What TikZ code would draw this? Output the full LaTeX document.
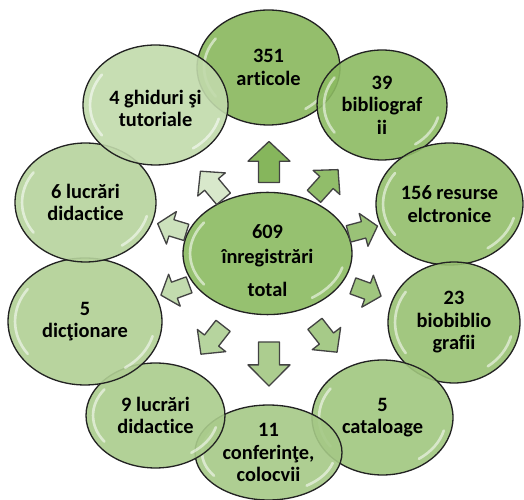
\documentclass[tikz,border=0pt]{standalone}
\usepackage{fontspec}
\setmainfont{Carlito}[Ligatures=NoCommon]
\usetikzlibrary{shapes.geometric,calc}

\definecolor{rim}{HTML}{222222}
\definecolor{cArt}{HTML}{88B75C}
\definecolor{cBib}{HTML}{8CBA62}
\definecolor{cRes}{HTML}{92BE6A}
\definecolor{cBio}{HTML}{98C172}
\definecolor{cCat}{HTML}{A0C67E}
\definecolor{cConf}{HTML}{A5C986}
\definecolor{cNine}{HTML}{AACC8C}
\definecolor{cDict}{HTML}{B0CF94}
\definecolor{cSix}{HTML}{B6D39C}
\definecolor{cGhid}{HTML}{C1DAAB}
\definecolor{cTot}{HTML}{96C170}
\definecolor{sp1}{HTML}{86B65C}
\definecolor{sp2}{HTML}{91BD6A}
\definecolor{sp3}{HTML}{9AC277}
\definecolor{sp4}{HTML}{A0C67F}
\definecolor{sp5}{HTML}{A6CA88}
\definecolor{sp6}{HTML}{ACCD8F}
\definecolor{sp7}{HTML}{B6D49E}
\definecolor{sp8}{HTML}{C2DBAE}
\definecolor{sp9}{HTML}{CCE1BC}
\definecolor{sp10}{HTML}{D8E8CB}

\newcommand{\lbl}{\fontsize{11.6}{12.8}\selectfont\bfseries}

\tikzset{
  bubble/.style={ellipse, draw=rim, line width=0.75pt, fill opacity=.9, text opacity=1,
    align=center, inner sep=0pt, font=\lbl,
    path picture={
      \draw[white, opacity=.55, line width=1.5pt, line cap=round]
        let \p1=(path picture bounding box.north east),
            \p2=(path picture bounding box.center),
            \n1={\x1-\x2-4pt}, \n2={\y1-\y2-4pt} in
        (\x2,\y2) ++(145:\n1 and \n2) arc[start angle=145, end angle=215, x radius=\n1, y radius=\n2]
        (\x2,\y2) ++(-55:\n1 and \n2) arc[start angle=-55, end angle=-15, x radius=\n1, y radius=\n2];
    }},
  spoke/.style={draw=rim!85, line width=0.75pt, line join=round}
}

\begin{document}
\begin{tikzpicture}[x=0.02cm, y=0.02cm]
  \useasboundingbox (0,0) rectangle (524,500);
  % outer bubbles, clockwise from the top
  \node[bubble, fill=cArt, minimum width=2.86cm, minimum height=2.30cm] (art) at (268.5,432.5) {351\\articole};
  \node[bubble, fill=cBib, minimum width=2.60cm, minimum height=2.20cm] (bib) at (382,395) {39\\bibliograf\\ii};
  \node[bubble, fill=cRes, minimum width=2.94cm, minimum height=2.44cm] (res) at (449.5,296) {156 resurse\\elctronice};
  \node[bubble, fill=cBio, minimum width=2.64cm, minimum height=2.42cm] (bio) at (454,177.5) {23\\biobiblio\\grafii};
  \node[bubble, fill=cCat, minimum width=2.82cm, minimum height=2.30cm] (cat) at (382.5,82.5) {5\\cataloage};
  \node[bubble, fill=cConf, minimum width=2.94cm, minimum height=1.90cm] (conf) at (268.5,47.5) {11\\conferinţe,\\colocvii};
  \node[bubble, fill=cNine, minimum width=2.78cm, minimum height=2.10cm] (nine) at (155.5,84.5) {9 lucrări\\didactice};
  \node[bubble, fill=cDict, minimum width=3.08cm, minimum height=2.54cm] (dict) at (85,178.5) {5\\dicţionare};
  \node[bubble, fill=cSix, minimum width=2.82cm, minimum height=2.38cm] (six) at (85.5,297.5) {6 lucrări\\didactice};
  \node[bubble, fill=cGhid, minimum width=2.90cm, minimum height=2.40cm] (ghid) at (155.5,395) {\rule{0pt}{12pt}4 ghiduri şi\\tutoriale};
  % centre
  \node[bubble, fill=cTot, fill opacity=1, minimum width=3.38cm, minimum height=2.34cm] (tot) at (267.5,246.5) {\rule{0pt}{16pt}609\\[1.5pt]înregistrări\\[6pt]total};
  % spokes
  \foreach \ax/\ay/\ang/\len/\wid/\col in {269/338/90/41/42/sp1, 326/317/48/36/36/sp2,
      363/270/15/30/34/sp3, 367/209/-20/30/34/sp4, 326/162/-52/36/36/sp5,
      269/136/-90/44/42/sp6, 212/160/-128/36/36/sp7, 175/210/200/30/34/sp8,
      172/272/163/30/34/sp9, 212/315/130/36/36/sp10}
    \draw[spoke, fill=\col, shift={(\ax,\ay)}, rotate=\ang]
      ({-\len/2},{-\wid/4}) -- ({0.02*\len},{-\wid/4}) -- ({0.02*\len},{-\wid/2}) -- ({\len/2},0)
      -- ({0.02*\len},{\wid/2}) -- ({0.02*\len},{\wid/4}) -- ({-\len/2},{\wid/4}) -- cycle;
\end{tikzpicture}
\end{document}
